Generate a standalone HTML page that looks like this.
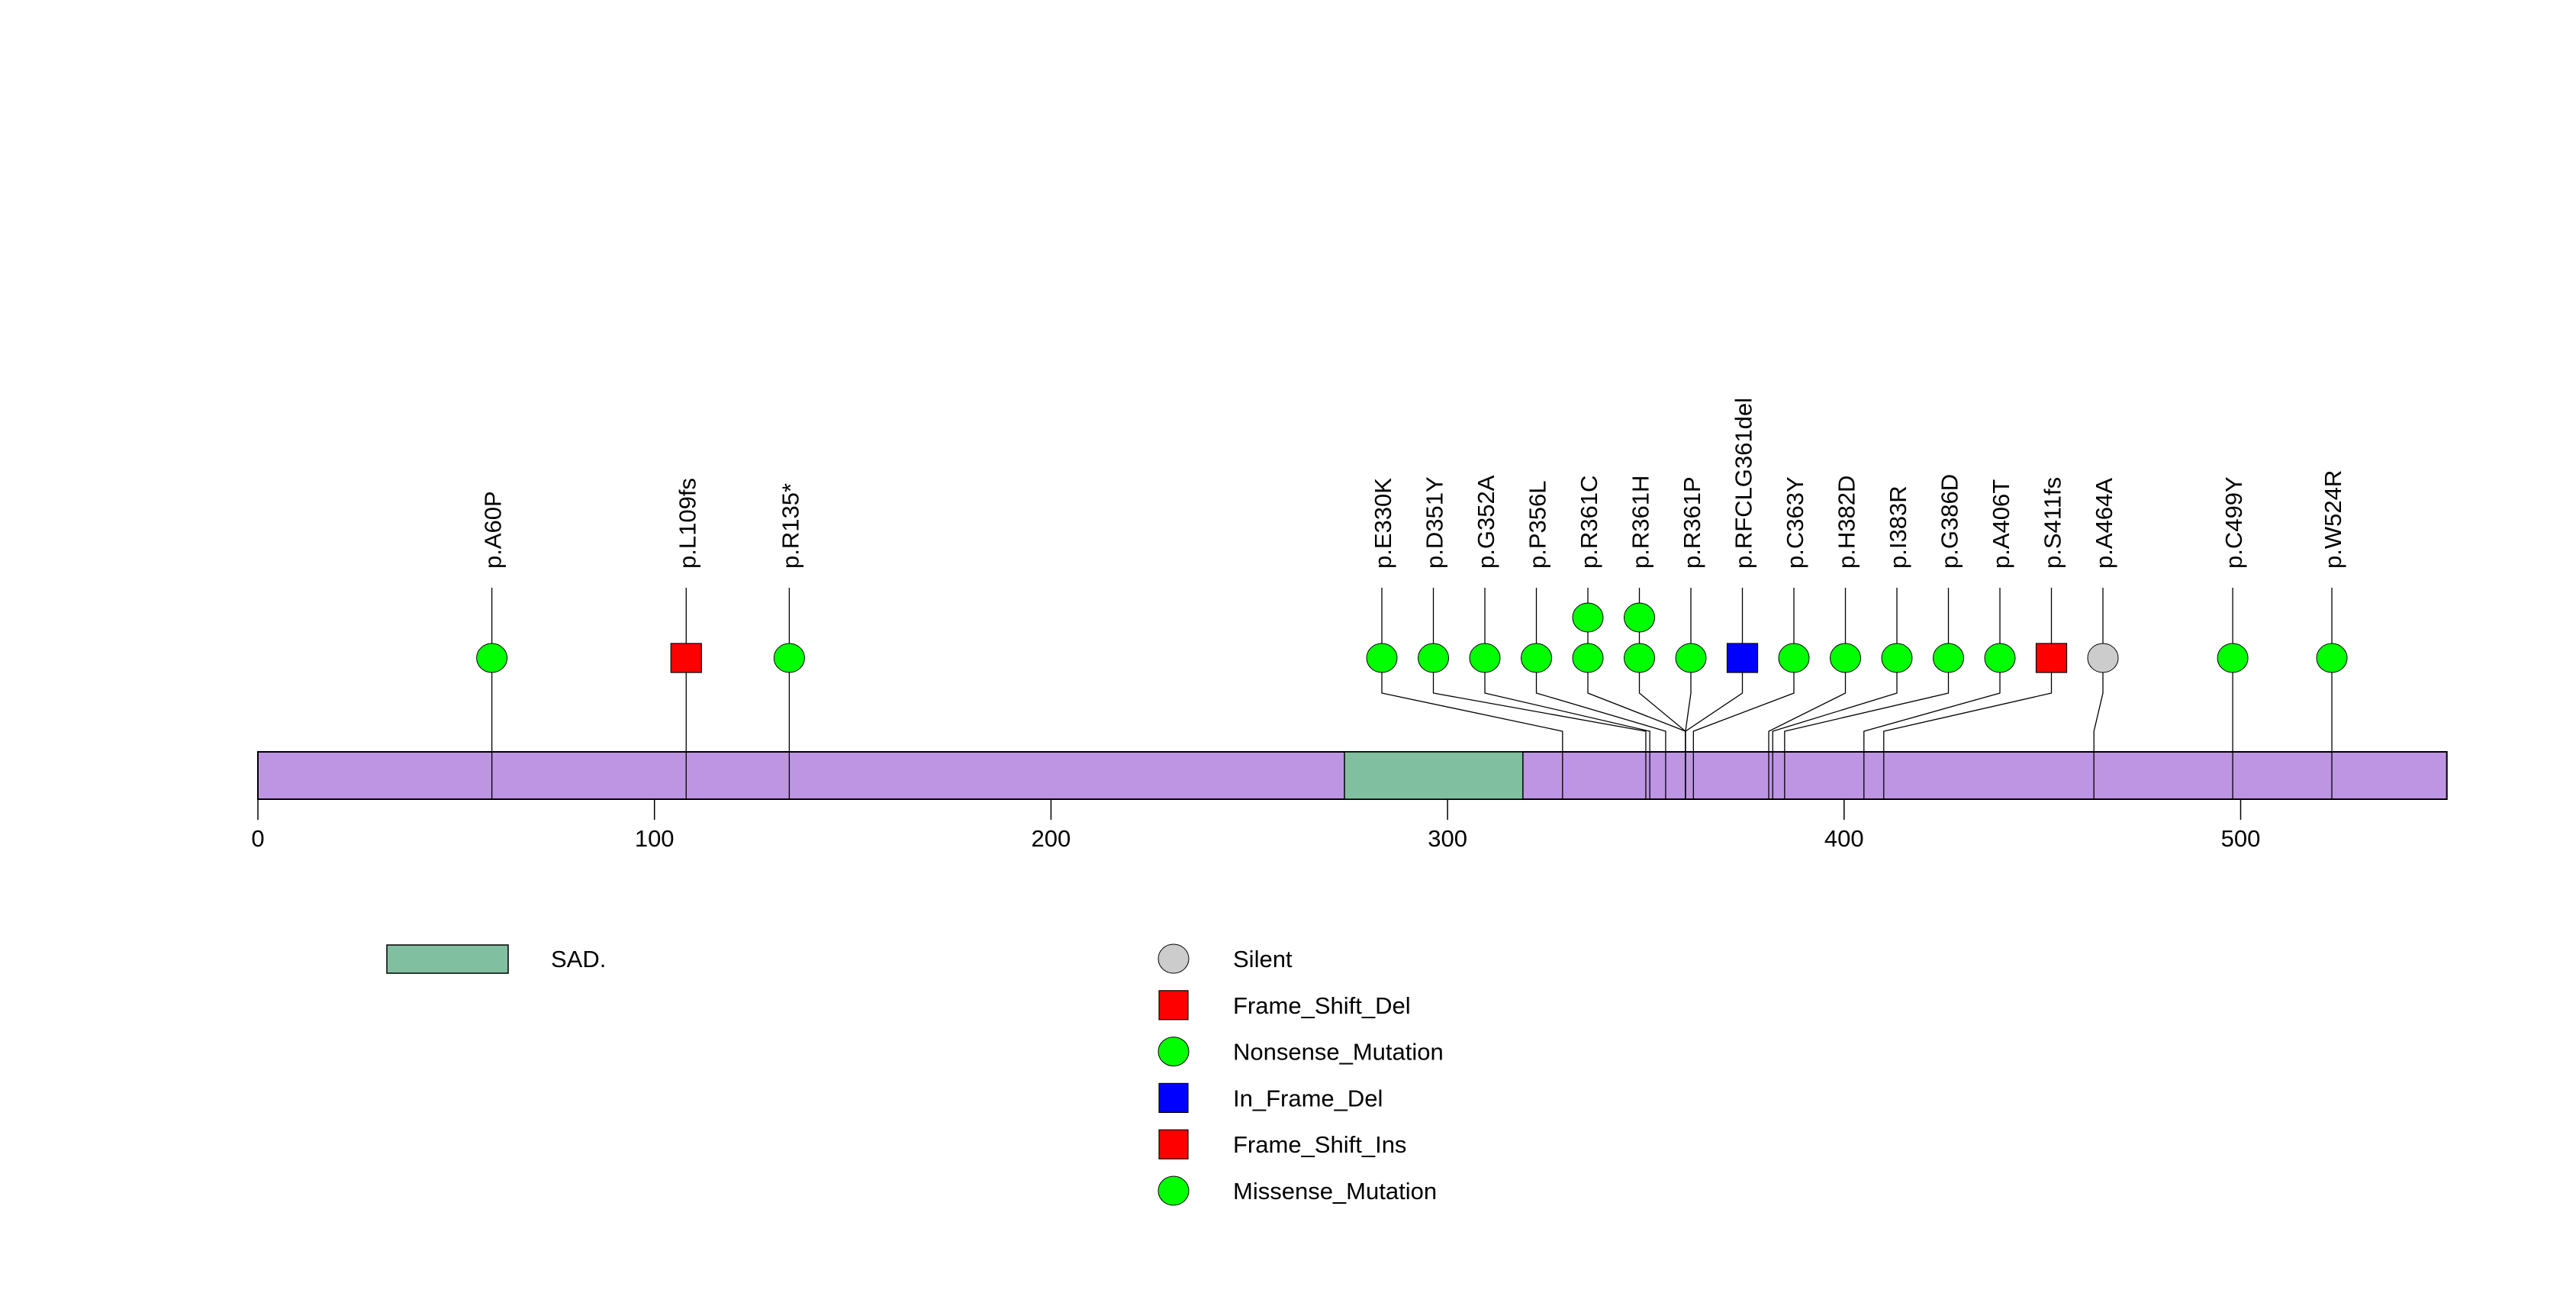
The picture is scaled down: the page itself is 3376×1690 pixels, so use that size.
<!DOCTYPE html>
<html><head><meta charset="utf-8">
<style>
html,body{margin:0;padding:0;background:#fff;}
svg{display:block;font-family:"Liberation Sans",Arial,sans-serif;}
</style></head>
<body>
<svg id="chart" width="3376" height="1690" viewBox="0 0 3376 1690" xmlns="http://www.w3.org/2000/svg">
<rect x="0" y="0" width="3376" height="1690" fill="#fff"/>
<g id="g-bar"></g>
<g id="g-lines"></g>
<g id="g-marks"></g>
<g id="g-labels"></g>
<g id="g-axis"></g>
<g id="g-legend"></g>
</svg>
<script>
const mutLabels = ["p.A60P","p.L109fs","p.R135*","p.E330K","p.D351Y","p.G352A","p.P356L","p.R361C","p.R361H","p.R361P","p.RFCLG361del","p.C363Y","p.H382D","p.I383R","p.G386D","p.A406T","p.S411fs","p.A464A","p.C499Y","p.W524R"];
const mutPositions = [60,109,135,330,351,352,356,361,361,361,361,363,382,383,386,406,411,464,499,524];
const mutCounts = [1,1,1,1,1,1,1,2,2,1,1,1,1,1,1,1,1,1,1,1];
const mutTypes = ["Missense_Mutation","Frame_Shift_Del","Nonsense_Mutation","Missense_Mutation","Missense_Mutation","Missense_Mutation","Missense_Mutation","Missense_Mutation","Missense_Mutation","Missense_Mutation","In_Frame_Del","Missense_Mutation","Missense_Mutation","Missense_Mutation","Missense_Mutation","Missense_Mutation","Frame_Shift_Ins","Silent","Missense_Mutation","Missense_Mutation"];
const proteinLength = 552;
const domainNames = ["SAD."];
const domainStarts = [275];
const domainEnds = [319];
const tickValues = [0,100,200,300,400,500];
const legendTypes = ["Silent","Frame_Shift_Del","Nonsense_Mutation","In_Frame_Del","Frame_Shift_Ins","Missense_Mutation"];

const NS="http://www.w3.org/2000/svg";
const X0=338, K=5.197;
function xs(p){return X0+p*K;}
const BAR_TOP=985, BAR_BOT=1047;
const colorOf={Silent:"#cccccc",Frame_Shift_Del:"#ff0000",Nonsense_Mutation:"#00ff00",In_Frame_Del:"#0000ff",Frame_Shift_Ins:"#ff0000",Missense_Mutation:"#00ff00"};
const squareTypes={Frame_Shift_Del:1,In_Frame_Del:1,Frame_Shift_Ins:1};
function mk(tag,attrs,parent){const e=document.createElementNS(NS,tag);for(const k in attrs)e.setAttribute(k,attrs[k]);parent.appendChild(e);return e;}

const gBar=document.getElementById('g-bar');
const gLines=document.getElementById('g-lines');
const gMarks=document.getElementById('g-marks');
const gLabels=document.getElementById('g-labels');
const gAxis=document.getElementById('g-axis');
const gLeg=document.getElementById('g-legend');

const bar=mk('rect',{x:xs(0),y:BAR_TOP,width:xs(proteinLength)-xs(0),height:BAR_BOT-BAR_TOP,fill:"#be95e3",stroke:"#000","stroke-width":2},gBar);


domainNames.forEach((n,i)=>{
  const d=mk('rect',{x:xs(domainStarts[i]-1),y:BAR_TOP,width:xs(domainEnds[i])-xs(domainStarts[i]-1),height:BAR_BOT-BAR_TOP,fill:"#80bf9f",stroke:"#000","stroke-width":1.5},gBar);
  
  
});

const SP=67.5, TOL=15;
const px=mutPositions.map(p=>xs(p-1));
let clusters=px.map((v,i)=>({items:[i],center:v}));
function ext(c){const h=(c.items.length-1)/2*SP;return [c.center-h,c.center+h];}
let changed=true;
while(changed){
  changed=false;
  for(let k=0;k<clusters.length-1;k++){
    const a=clusters[k],b=clusters[k+1];
    if(ext(b)[0]-ext(a)[1] < SP-TOL){
      const items=a.items.concat(b.items);
      const mean=items.reduce((s,i)=>s+px[i],0)/items.length;
      clusters.splice(k,2,{items:items,center:mean});
      changed=true;break;
    }
  }
}
const mx=new Array(px.length);
clusters.forEach(c=>{c.items.forEach((i,j)=>{mx[i]=c.center+(j-(c.items.length-1)/2)*SP;});});
for(let i=1;i<mx.length;i++){if(mx[i]-mx[i-1]<SP)mx[i]=mx[i-1]+SP;}

const MY=862, STEP=53;
mutLabels.forEach((lab,i)=>{
  const shifted=Math.abs(mx[i]-px[i])>0.5;
  const pts=shifted?`${mx[i]},770 ${mx[i]},908 ${px[i]},958 ${px[i]},${BAR_BOT}`:`${mx[i]},770 ${mx[i]},${BAR_BOT}`;
  const ln=mk('polyline',{points:pts,fill:"none",stroke:"#000","stroke-width":1.3},gLines);
  
  
  const t=mutTypes[i], col=colorOf[t];
  for(let c=0;c<mutCounts[i];c++){
    const cy=MY-c*STEP;
    let m;
    if(squareTypes[t]) m=mk('rect',{x:mx[i]-20,y:cy-19,width:40,height:38,fill:col,stroke:"#000","stroke-width":1.2},gMarks);
    else m=mk('ellipse',{cx:mx[i],cy:cy,rx:20,ry:19,fill:col,stroke:"#000","stroke-width":1},gMarks);
    
    
  }
  const tx=mk('text',{transform:`translate(${mx[i]+12},745) rotate(-90)`,"font-size":31,fill:"#000"},gLabels);
  tx.textContent=lab;
  
  
});

tickValues.forEach(v=>{
  const l=mk('line',{x1:xs(v),x2:xs(v),y1:BAR_BOT,y2:1074,stroke:"#000","stroke-width":1.5},gAxis);
  
  
  const tt=mk('text',{x:xs(v),y:1109,"font-size":31,"text-anchor":"middle",fill:"#000"},gAxis);
  tt.textContent=String(v);
  
  
});

domainNames.forEach((n,i)=>{
  const r=mk('rect',{x:507,y:1238,width:159,height:37,fill:"#80bf9f",stroke:"#000","stroke-width":1.5},gLeg);
  
  
  const t=mk('text',{x:722,y:1267,"font-size":31,fill:"#000"},gLeg);
  t.textContent=n;
  
  
});
legendTypes.forEach((t,i)=>{
  const cy=1256+i*60.8, col=colorOf[t];
  let s;
  if(squareTypes[t]) s=mk('rect',{x:1519,y:cy-19,width:38,height:38,fill:col,stroke:"#000","stroke-width":1.2},gLeg);
  else s=mk('ellipse',{cx:1538,cy:cy,rx:20,ry:19,fill:col,stroke:"#000","stroke-width":1},gLeg);
  
  
  const tx=mk('text',{x:1616,y:cy+11,"font-size":31,fill:"#000"},gLeg);
  tx.textContent=t;
  
  
});
</script>
</body></html>
